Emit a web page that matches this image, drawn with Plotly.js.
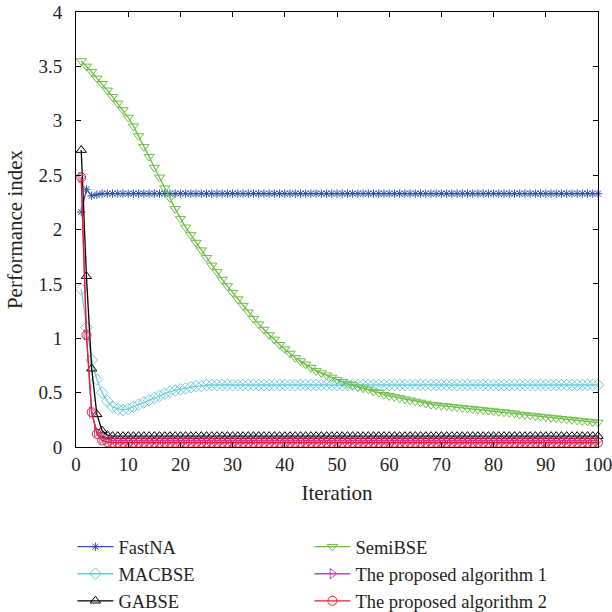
<!DOCTYPE html>
<html>
<head>
<meta charset="utf-8">
<script src="https://cdn.plot.ly/plotly-3.0.1.min.js"></script>
<style>html,body{margin:0;padding:0;background:#fff;}#chart{width:612px;height:612px;}</style>
</head>
<body>
<div id="chart"></div>
<script>
const seriesNames = ["FastNA", "MACBSE", "GABSE", "SemiBSE", "The proposed algorithm 1", "The proposed algorithm 2"];

const fastNA = [
2.16,2.37,2.31,2.32,2.33,2.33,2.33,2.33,2.33,2.33,
2.33,2.33,2.33,2.33,2.33,2.33,2.33,2.33,2.33,2.33,
2.33,2.33,2.33,2.33,2.33,2.33,2.33,2.33,2.33,2.33,
2.33,2.33,2.33,2.33,2.33,2.33,2.33,2.33,2.33,2.33,
2.33,2.33,2.33,2.33,2.33,2.33,2.33,2.33,2.33,2.33,
2.33,2.33,2.33,2.33,2.33,2.33,2.33,2.33,2.33,2.33,
2.33,2.33,2.33,2.33,2.33,2.33,2.33,2.33,2.33,2.33,
2.33,2.33,2.33,2.33,2.33,2.33,2.33,2.33,2.33,2.33,
2.33,2.33,2.33,2.33,2.33,2.33,2.33,2.33,2.33,2.33,
2.33,2.33,2.33,2.33,2.33,2.33,2.33,2.33,2.33,2.33];

const macbse = [
1.45,1.10,0.80,0.62,0.50,0.42,0.37,0.35,0.34,0.35,
0.37,0.39,0.41,0.43,0.45,0.47,0.49,0.51,0.52,0.53,
0.54,0.55,0.56,0.56,0.57,0.57,0.57,0.57,0.57,0.57,
0.57,0.57,0.57,0.57,0.57,0.57,0.57,0.57,0.57,0.57,
0.57,0.57,0.57,0.57,0.57,0.57,0.57,0.57,0.57,0.57,
0.57,0.57,0.57,0.57,0.57,0.57,0.57,0.57,0.57,0.57,
0.57,0.57,0.57,0.57,0.57,0.57,0.57,0.57,0.57,0.57,
0.57,0.57,0.57,0.57,0.57,0.57,0.57,0.57,0.57,0.57,
0.57,0.57,0.57,0.57,0.57,0.57,0.57,0.57,0.57,0.57,
0.57,0.57,0.57,0.57,0.57,0.57,0.57,0.57,0.57,0.57];

const gabse = [
2.73,1.57,0.72,0.30,0.15,0.11,0.10,0.10,0.10,0.10,
0.10,0.10,0.10,0.10,0.10,0.10,0.10,0.10,0.10,0.10,
0.10,0.10,0.10,0.10,0.10,0.10,0.10,0.10,0.10,0.10,
0.10,0.10,0.10,0.10,0.10,0.10,0.10,0.10,0.10,0.10,
0.10,0.10,0.10,0.10,0.10,0.10,0.10,0.10,0.10,0.10,
0.10,0.10,0.10,0.10,0.10,0.10,0.10,0.10,0.10,0.10,
0.10,0.10,0.10,0.10,0.10,0.10,0.10,0.10,0.10,0.10,
0.10,0.10,0.10,0.10,0.10,0.10,0.10,0.10,0.10,0.10,
0.10,0.10,0.10,0.10,0.10,0.10,0.10,0.10,0.10,0.10,
0.10,0.10,0.10,0.10,0.10,0.10,0.10,0.10,0.10,0.10];

const semibse = [
3.55,3.50,3.45,3.39,3.34,3.28,3.22,3.16,3.10,3.03,
2.95,2.86,2.76,2.67,2.57,2.48,2.38,2.29,2.19,2.10,
2.02,1.95,1.88,1.81,1.74,1.67,1.61,1.54,1.48,1.42,
1.36,1.30,1.24,1.18,1.13,1.08,1.03,0.99,0.94,0.90,
0.86,0.82,0.79,0.76,0.73,0.70,0.68,0.66,0.64,0.62,
0.60,0.58,0.57,0.55,0.54,0.53,0.51,0.50,0.48,0.47,
0.46,0.45,0.44,0.43,0.42,0.41,0.40,0.39,0.385,0.38,
0.375,0.37,0.365,0.36,0.355,0.35,0.345,0.34,0.335,0.33,
0.325,0.32,0.315,0.31,0.30,0.295,0.29,0.285,0.28,0.275,
0.27,0.265,0.26,0.255,0.25,0.245,0.24,0.235,0.23,0.225];

const proposed1 = [
2.48,1.03,0.32,0.14,0.08,0.07,0.06,0.06,0.06,0.06,
0.06,0.06,0.06,0.06,0.06,0.06,0.06,0.06,0.06,0.06,
0.06,0.06,0.06,0.06,0.06,0.06,0.06,0.06,0.06,0.06,
0.06,0.06,0.06,0.06,0.06,0.06,0.06,0.06,0.06,0.06,
0.06,0.06,0.06,0.06,0.06,0.06,0.06,0.06,0.06,0.06,
0.06,0.06,0.06,0.06,0.06,0.06,0.06,0.06,0.06,0.06,
0.06,0.06,0.06,0.06,0.06,0.06,0.06,0.06,0.06,0.06,
0.06,0.06,0.06,0.06,0.06,0.06,0.06,0.06,0.06,0.06,
0.06,0.06,0.06,0.06,0.06,0.06,0.06,0.06,0.06,0.06,
0.06,0.06,0.06,0.06,0.06,0.06,0.06,0.06,0.06,0.06];

const proposed2 = [
2.48,1.03,0.32,0.12,0.06,0.045,0.04,0.04,0.04,0.04,
0.04,0.04,0.04,0.04,0.04,0.04,0.04,0.04,0.04,0.04,
0.04,0.04,0.04,0.04,0.04,0.04,0.04,0.04,0.04,0.04,
0.04,0.04,0.04,0.04,0.04,0.04,0.04,0.04,0.04,0.04,
0.04,0.04,0.04,0.04,0.04,0.04,0.04,0.04,0.04,0.04,
0.04,0.04,0.04,0.04,0.04,0.04,0.04,0.04,0.04,0.04,
0.04,0.04,0.04,0.04,0.04,0.04,0.04,0.04,0.04,0.04,
0.04,0.04,0.04,0.04,0.04,0.04,0.04,0.04,0.04,0.04,
0.04,0.04,0.04,0.04,0.04,0.04,0.04,0.04,0.04,0.04,
0.04,0.04,0.04,0.04,0.04,0.04,0.04,0.04,0.04,0.04];

const iterations = fastNA.map((_, i) => i + 1);

const styles = [
  {color: "#3050a8", symbol: "asterisk-open", size: 7, rank: 1},
  {color: "#6ecbdb", symbol: "diamond-open", size: 9, rank: 3},
  {color: "#000000", symbol: "triangle-up-open", size: 9, rank: 5},
  {color: "#6cbf45", symbol: "triangle-down-open", size: 9, rank: 2},
  {color: "#b04fb4", symbol: "triangle-right-open", size: 9, rank: 4},
  {color: "#ec1c2e", symbol: "circle-open", size: 9, rank: 6}
];
const allSeries = [fastNA, macbse, gabse, semibse, proposed1, proposed2];

const traces = allSeries.map((ys, k) => ({
  x: iterations,
  y: ys,
  name: seriesNames[k],
  type: "scatter",
  mode: "lines+markers",
  cliponaxis: false,
  legendrank: styles[k].rank,
  line: {color: styles[k].color, width: 1.3},
  marker: {symbol: styles[k].symbol, size: styles[k].size, color: styles[k].color, line: {color: styles[k].color, width: 1}}
}));

const fam = "Liberation Serif, Times New Roman, serif";
const tickFont = {family: fam, size: 19, color: "#231f20"};
const titleFont = {family: fam, size: 21, color: "#231f20"};

const layout = {
  width: 612, height: 612,
  margin: {l: 76, r: 14, t: 12, b: 165, autoexpand: false},
  paper_bgcolor: "#ffffff", plot_bgcolor: "#ffffff",
  font: tickFont,
  showlegend: true,
  legend: {
    orientation: "h", xref: "container", x: 0.1183, xanchor: "left",
    yref: "container", y: 0.137, yanchor: "top",
    entrywidth: 186, entrywidthmode: "pixels", itemwidth: 36,
    font: {family: fam, size: 18.5, color: "#231f20"},
    tracegroupgap: 0, bgcolor: "rgba(0,0,0,0)"
  },
  xaxis: {
    range: [0, 100], dtick: 10, tick0: 0,
    showline: true, linecolor: "#000", linewidth: 1, mirror: "ticks",
    ticks: "inside", ticklen: 5, tickcolor: "#000",
    showgrid: false, zeroline: false,
    ticklabeloverflow: "allow",
    tickfont: tickFont,
    title: {text: "Iteration", font: titleFont, standoff: 11}
  },
  yaxis: {
    range: [0, 4], dtick: 0.5, tick0: 0,
    showline: true, linecolor: "#000", linewidth: 1, mirror: "ticks",
    ticks: "inside", ticklen: 5, tickcolor: "#000",
    showgrid: false, zeroline: false,
    ticklabeloverflow: "allow",
    ticklabelstandoff: 9,
    tickfont: tickFont,
    title: {text: "Performance index", font: titleFont, standoff: 10}
  }
};

Plotly.newPlot("chart", traces, layout, {displayModeBar: false, staticPlot: true});
</script>
</body>
</html>
